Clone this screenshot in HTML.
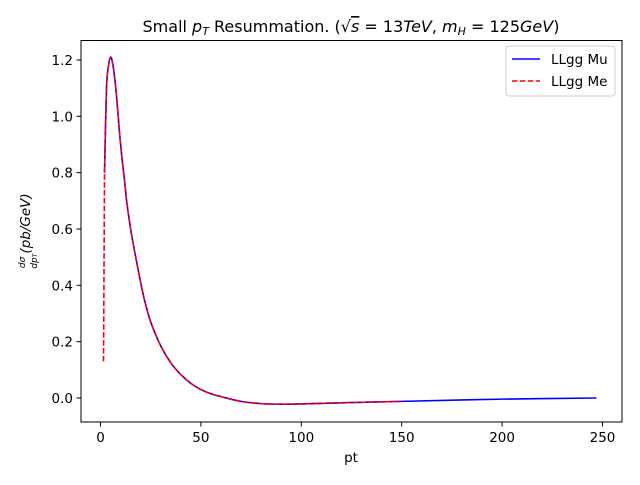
<!DOCTYPE html>
<html><head><meta charset="utf-8"><style>body{margin:0;background:#fff}svg{font-family:"DejaVu Sans","Liberation Sans",sans-serif}</style></head>
<body>
<svg id="c" width="640" height="480">
<rect x="0" y="0" width="640" height="480" fill="#fff"/>
<text x="351" y="32" text-anchor="middle" font-size="16">Small <tspan font-style="italic">p</tspan><tspan font-style="italic" font-size="11" dy="3">T</tspan><tspan dy="-3"> Resummation. (</tspan><tspan>√<tspan text-decoration="overline" font-style="italic">s</tspan></tspan><tspan> = 13</tspan><tspan font-style="italic">TeV</tspan>, <tspan font-style="italic">m</tspan><tspan font-style="italic" font-size="11" dy="3">H</tspan><tspan dy="-3"> = 125</tspan><tspan font-style="italic">GeV</tspan>)</text>
<g id="ax"></g>
<text x="351" y="462" text-anchor="middle" font-size="13.5">pt</text>
<g transform="translate(30,231) rotate(-90)">
<text x="0" y="0" text-anchor="middle" font-size="13.5" font-style="italic"><tspan font-size="9" dy="-5">dσ</tspan><tspan dx="-12" dy="12" font-size="9">dp</tspan><tspan font-size="6">T</tspan><tspan dy="-7">(pb/GeV)</tspan></text>
</g>
<g>
<rect x="506" y="46" width="109" height="50" rx="3" fill="#fff" stroke="#ccc"/>
<line x1="512" y1="59" x2="540" y2="59" stroke="blue" stroke-width="1.5"/>
<text x="551" y="64" font-size="13.5">LLgg Mu</text>
<line x1="512" y1="81" x2="540" y2="81" stroke="red" stroke-width="1.5" stroke-dasharray="5.5,2.4"/>
<text x="551" y="86" font-size="13.5">LLgg Me</text>
</g>
</svg>
<script>
const xTicks=[0,50,100,150,200,250];
const yTicks=[0.0,0.2,0.4,0.6,0.8,1.0,1.2];
const muPt=[2,3,4,5,6,7,8,10,12,13,15,17,20,22,25,30,35,40,45,50,55,60,70,80,90,100,120,150,200,247];
const muVal=[0.8,1.1,1.18,1.21,1.19,1.14,1.07,0.9,0.77,0.70,0.6,0.52,0.41,0.345,0.27,0.185,0.125,0.083,0.052,0.03,0.015,0.005,-0.012,-0.02,-0.022,-0.021,-0.017,-0.012,-0.004,0];
const mePt=[1.5,2,3,4,5,6,7,8,10,12,13,15,17,20,22,25,30,35,40,45,50,55,60,70,80,90,100,120,150];
const meVal=[0.13,0.8,1.1,1.18,1.21,1.19,1.14,1.07,0.9,0.77,0.70,0.6,0.52,0.41,0.345,0.27,0.185,0.125,0.083,0.052,0.03,0.015,0.005,-0.012,-0.02,-0.022,-0.021,-0.017,-0.012];
const X=v=>100.5+v*2.008, Y=v=>398-v*281.7;
const NS="http://www.w3.org/2000/svg",ax=document.getElementById('ax');
function mk(t,a,p){const e=document.createElementNS(NS,t);for(const k in a)e.setAttribute(k,a[k]);(p||ax).appendChild(e);return e;}
xTicks.forEach(v=>{const g=mk('g',{});


mk('line',{x1:X(v),x2:X(v),y1:422,y2:426.5,stroke:'#000'},g);
const t=mk('text',{x:X(v),y:442,'text-anchor':'middle','font-size':13.5},g);t.textContent=v;});
yTicks.forEach(v=>{const g=mk('g',{});


mk('line',{x1:76.5,x2:81,y1:Y(v),y2:Y(v),stroke:'#000'},g);
const t=mk('text',{x:73,y:Y(v)+5,'text-anchor':'end','font-size':13.5},g);t.textContent=v.toFixed(1);});
function line(xs,ys,name,attrs,smoothFrom){
const P=xs.map((x,i)=>[X(x),Y(ys[i])]);
let d='M'+P[0][0].toFixed(2)+','+P[0][1].toFixed(2);
for(let i=0;i<P.length-1;i++){
 if(i<smoothFrom){d+='L'+P[i+1][0].toFixed(2)+','+P[i+1][1].toFixed(2);continue;}
 const p0=P[Math.max(i-1,smoothFrom)],p1=P[i],p2=P[i+1],p3=P[Math.min(i+2,P.length-1)];
 const c1=[p1[0]+(p2[0]-p0[0])/6,p1[1]+(p2[1]-p0[1])/6],c2=[p2[0]-(p3[0]-p1[0])/6,p2[1]-(p3[1]-p1[1])/6];
 d+='C'+c1.map(v=>v.toFixed(2))+' '+c2.map(v=>v.toFixed(2))+' '+p2.map(v=>v.toFixed(2));}
const p=mk('path',Object.assign({d:d,fill:'none','stroke-width':1.6,'stroke-linejoin':'round'},attrs));

}
line(muPt,muVal,'series-llgg-mu',{stroke:'blue'},0);
line(mePt,meVal,'series-llgg-me',{stroke:'red','stroke-dasharray':'5.5,2.4'},1);
const f=mk('rect',{x:81,y:40.5,width:541,height:381.5,fill:'none',stroke:'#000','stroke-width':1});


</script>
</body></html>
